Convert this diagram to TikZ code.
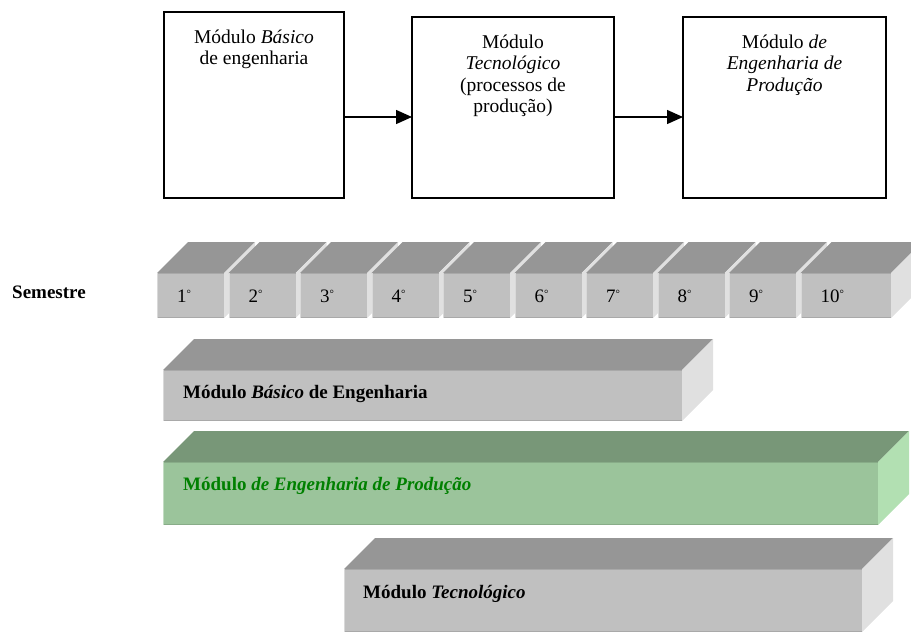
\documentclass[tikz,border=0pt]{standalone}
\usepackage{fontspec}
\setmainfont{Liberation Serif}
\usetikzlibrary{arrows.meta}
\definecolor{gtop}{HTML}{969696}
\definecolor{gfront}{HTML}{C0C0C0}
\definecolor{gside}{HTML}{E0E0E0}
\definecolor{ggtop}{HTML}{789778}
\definecolor{ggfront}{HTML}{9BC49B}
\definecolor{ggside}{HTML}{B2E0B2}
\definecolor{gtext}{HTML}{008000}
\newcommand{\prism}[7]{%
  \fill[#5] (#1,#2) -- (#3,#2) -- (#3+31,#2-31) -- (#1+31,#2-31) -- cycle;
  \fill[#7] (#3,#2) -- (#3+31,#2-31) -- (#3+31,#4-31) -- (#3,#4) -- cycle;
  \fill[#6] (#1,#2) rectangle (#3,#4);
  \draw[line width=0.8pt,#6!88!black] (#1,#2+0.4) -- (#3,#2+0.4);
  \draw[line width=0.8pt,#6!88!black] (#1,#4-0.4) -- (#3,#4-0.4);
  \draw[line width=0.8pt,#6!60!white] (#1+0.4,#2) -- (#1+0.4,#4);
}
\newcommand{\degsym}{\raisebox{5pt}{\fontsize{11}{11}\selectfont °}}
\tikzset{
  tbox/.style={draw, line width=1.5pt, inner sep=0pt, outer sep=0pt},
  ttext/.style={align=center, inner sep=0pt, font=\fontsize{19.5}{21.5}\selectfont},
  arr/.style={line width=1.4pt, -{Triangle[length=16pt,width=14pt]}},
  cellnum/.style={inner sep=0pt, font=\fontsize{19}{21}\selectfont},
  bartext/.style={inner sep=0pt, font=\fontsize{19}{21}\selectfont\bfseries}
}
\begin{document}
\begin{tikzpicture}[x=1pt,y=-1pt]
\useasboundingbox (0,0) rectangle (911,635);
\clip (0,0) rectangle (911,635);
% top module boxes
\node[tbox, minimum width=180pt, minimum height=186pt] (b1) at (254,105) {};
\node[tbox, minimum width=202pt, minimum height=181pt] (b2) at (513,107.5) {};
\node[tbox, minimum width=203pt, minimum height=181pt] (b3) at (784.5,107.5) {};
\node[ttext, anchor=north] (t1) at ([yshift=-17.5pt]b1.north) {Módulo \textit{Básico}\\de engenharia};
\node[ttext, anchor=north] (t2) at ([yshift=-17.5pt]b2.north) {Módulo\\\textit{Tecnológico}\\(processos de\\produção)};
\node[ttext, anchor=north] (t3) at ([yshift=-17.5pt]b3.north) {Módulo \textit{de}\\\textit{Engenharia de}\\\textit{Produção}};
\coordinate (a1) at ([yshift=-12pt]b1.east);
\coordinate (a2) at ([yshift=-9.5pt]b2.east);
\draw[arr] (a1) -- (a1 -| b2.west);
\draw[arr] (a2) -- (a2 -| b3.west);
% semester row
\node[bartext, anchor=west] (sem) at (12,292) {Semestre};
\foreach \i/\xa/\xb in {1/157/224, 2/228.5/295.5, 3/300/367, 4/371.5/438.5, 5/443/510, 6/514.5/581.5, 7/586/653, 8/657.5/724.5, 9/729/796, 10/800.5/891} {
  \prism{\xa}{273}{\xb}{318}{gtop}{gfront}{gside}
  \node[cellnum, anchor=base west] (c\i) at (\xa+20,302) {\i\degsym};
}
% module bars
\prism{163}{370}{682}{421}{gtop}{gfront}{gside}
\node[bartext, anchor=base west] (m1) at (183,398) {Módulo \textit{Básico} de Engenharia};
\prism{163}{462}{878}{525}{ggtop}{ggfront}{ggside}
\node[bartext, text=gtext, anchor=base west] (m2) at (183,490) {Módulo \textit{de Engenharia de Produção}};
\prism{344}{569}{862}{632}{gtop}{gfront}{gside}
\node[bartext, anchor=base west] (m3) at (363,598) {Módulo \textit{Tecnológico}};
\end{tikzpicture}
\end{document}
